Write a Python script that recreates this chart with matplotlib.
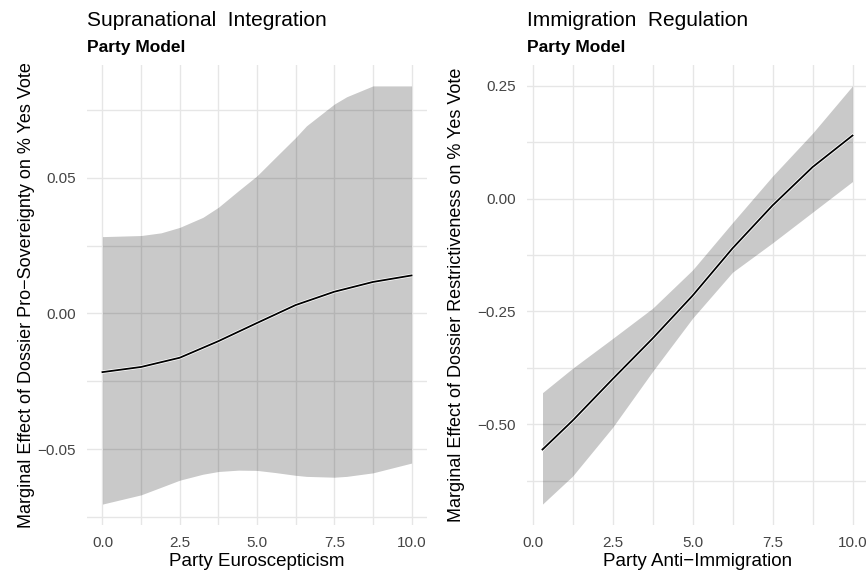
import matplotlib
matplotlib.use("Agg")
import matplotlib.pyplot as plt
import matplotlib.patheffects as pe

plt.rcParams["font.family"] = ["Liberation Sans", "DejaVu Sans"]

# left panel: supranational integration
euro_x = [0, 1.25, 2.5, 3.75, 5, 6.25, 7.5, 8.75, 10]
euro_fit = [-0.0216, -0.0197, -0.0163, -0.0102, -0.0035, 0.0031, 0.0080, 0.0116, 0.0140]
euro_band_x = [0, 1.25, 1.9, 2.5, 3.25, 3.75, 4.4, 5, 5.6, 6.25, 6.6, 7.5, 7.9, 8.75, 10]
euro_hi = [0.0283, 0.0287, 0.0297, 0.0317, 0.0354, 0.0391, 0.0452, 0.0507, 0.0575,
           0.0648, 0.0691, 0.0771, 0.0798, 0.0838, 0.0838]
euro_lo = [-0.0702, -0.0668, -0.0640, -0.0614, -0.0592, -0.0582, -0.0577, -0.0578, -0.0586,
           -0.0596, -0.0600, -0.0603, -0.0600, -0.0587, -0.0551]

# right panel: immigration regulation
imm_x = [0.31, 1.25, 2.5, 3.75, 5, 6.25, 7.5, 8.75, 10]
imm_fit = [-0.556, -0.492, -0.400, -0.310, -0.215, -0.110, -0.015, 0.070, 0.140]
imm_hi = [-0.430, -0.376, -0.310, -0.243, -0.158, -0.053, 0.050, 0.145, 0.250]
imm_lo = [-0.677, -0.615, -0.507, -0.383, -0.265, -0.163, -0.098, -0.030, 0.038]

x_ticks = [0, 2.5, 5, 7.5, 10]
euro_yticks = [-0.05, 0.0, 0.05]
imm_yticks = [-0.50, -0.25, 0.0, 0.25]

W, H = 866, 572
fig = plt.figure(figsize=(W / 100, H / 100), dpi=100)


def px(x, y):
    return x / W, 1 - y / H


def panel(left, width, line_x, fit, band_x, lo, hi, yticks, minor_y,
          title, xlabel, ylabel, label_x):
    ax = fig.add_axes([left / W, (H - 525) / H, width / W, 460 / H])
    for s in ax.spines.values():
        s.set_visible(False)
    ax.fill_between(band_x, lo, hi, color="black", alpha=0.21, lw=0, zorder=2)
    ax.plot(line_x, fit, color="black", lw=1.3, zorder=3,
            path_effects=[pe.Stroke(linewidth=2.4, foreground="white"), pe.Normal()])
    xmin, xmax = min(band_x), max(band_x)
    ymin, ymax = min(lo), max(hi)
    dx, dy = (xmax - xmin) * 0.05, (ymax - ymin) * 0.05
    ax.set_xlim(xmin - dx, xmax + dx)
    ax.set_ylim(ymin - dy, ymax + dy)
    ax.set_xticks(x_ticks)
    ax.set_xticklabels([f"{v:.1f}" for v in x_ticks])
    ax.set_xticks([1.25, 3.75, 6.25, 8.75], minor=True)
    ax.set_yticks(yticks)
    ax.set_yticklabels([f"{v:.2f}".replace("-", "\u2212") for v in yticks])
    ax.set_yticks(minor_y, minor=True)
    ax.grid(True, which="both", color="#e6e6e6", lw=1.0, zorder=0)
    ax.set_axisbelow(True)
    ax.tick_params(which="both", length=0, labelsize=11, labelcolor="#444444")
    ax.tick_params(axis="y", pad=8)
    ax.tick_params(axis="x", pad=8)
    ax.set_xlabel(xlabel, fontsize=13.5, labelpad=2)
    ax.set_ylabel(ylabel, fontsize=13)
    ax.yaxis.set_label_coords(label_x, 0.5)
    fig.text(*px(left, 26), title, fontsize=15, va="baseline")
    fig.text(*px(left, 52), "Party Model", fontsize=12.5, fontweight="bold", va="baseline")
    return ax


panel(87, 340, euro_x, euro_fit, euro_band_x, euro_lo, euro_hi, euro_yticks,
      [-0.075, -0.025, 0.025, 0.075],
      "Supranational  Integration", "Party Euroscepticism",
      "Marginal Effect of Dossier Pro\u2212Sovereignty on % Yes Vote", -0.153)

panel(527, 341, imm_x, imm_fit, imm_x, imm_lo, imm_hi, imm_yticks,
      [-0.625, -0.375, -0.125, 0.125],
      "Immigration  Regulation", "Party Anti\u2212Immigration",
      "Marginal Effect of Dossier Restrictiveness on % Yes Vote", -0.182)

fig.savefig("out.png", dpi=100, facecolor="white")
